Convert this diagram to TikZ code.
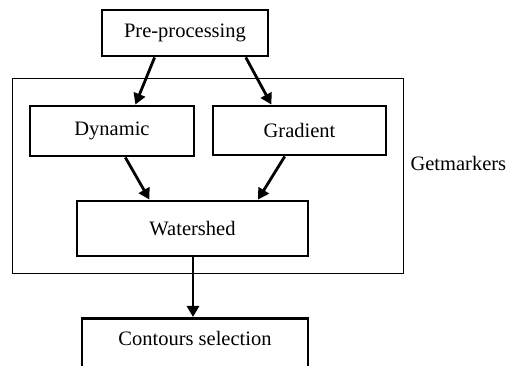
\documentclass[tikz,border=0pt]{standalone}
\usepackage{fontspec}
\setmainfont{Liberation Serif}
\usetikzlibrary{arrows.meta,calc}
\begin{document}
\begin{tikzpicture}[x=1pt,y=-1pt,
  box/.style={draw,line width=2.9pt,rectangle,inner sep=0pt,font=\fontsize{20.5}{24}\selectfont},
  arr/.style={line width=2.8pt,-{Triangle[length=11pt,width=12pt]}},
  every node/.style={font=\fontsize{20.5}{24}\selectfont}]
\useasboundingbox (0,0) rectangle (512,366);
\clip (0,0) rectangle (512,366);
\node[draw,line width=1pt,minimum width=391,minimum height=195,inner sep=0pt] (outer) at (207.5,176.5) {};
\node[box,minimum width=166,minimum height=46] (pre) at (185,33) {Pre-processing};
\node[box,minimum width=164,minimum height=50] (dyn) at (112,131) {Dynamic};
\node[box,minimum width=173,minimum height=49] (grad) at (299.5,130.5) {Gradient};
\node[box,minimum width=231,minimum height=55] (ws) at (192.5,228.5) {Watershed};
\node[box,minimum width=226,text height=20pt,text depth=40pt,anchor=north,inner sep=7pt] (cs) at (195,317) {Contours selection};
\node[anchor=west] (gm) at (407,163) {Getmarkers};
\draw[arr] ($(pre.south west)!0.32!(pre.south east)$) -- ($(dyn.north west)!0.64!(dyn.north east)$);
\draw[arr] ($(pre.south west)!0.86!(pre.south east)$) -- ($(grad.north west)!0.34!(grad.north east)$);
\draw[arr] ($(dyn.south west)!0.58!(dyn.south east)$) -- ($(ws.north west)!0.316!(ws.north east)$);
\draw[arr] ($(grad.south west)!0.416!(grad.south east)$) -- ($(ws.north west)!0.78!(ws.north east)$);
\draw[arr] (ws.south -| 193,0) -- (cs.north -| 193,0);
\end{tikzpicture}
\end{document}
